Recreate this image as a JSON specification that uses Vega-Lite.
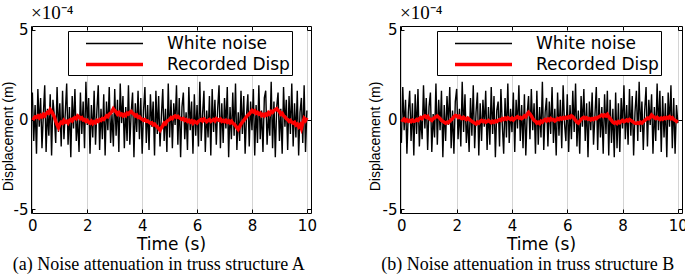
{
"$schema": "https://vega.github.io/schema/vega-lite/v6.json",
"padding": {"left": 0, "top": 3, "right": 0, "bottom": 0},
"autosize": {"type": "pad"},
"background": "white",
"spacing": 50,
"resolve": {"scale": {"color": "independent", "strokeWidth": "independent"}, "legend": {"color": "independent", "strokeWidth": "independent"}},
"config": {
  "view": {"stroke": "black", "strokeWidth": 1},
  "axis": {"labelFont": "DejaVu Sans", "labelFontSize": 15, "labelColor": "black", "titleFont": "DejaVu Sans", "titleFontSize": 17, "titleFontWeight": "normal", "titleColor": "black", "domain": false, "tickColor": "black", "tickSize": -4, "ticks": true},
  "title": {"fontWeight": "normal", "color": "black"},
  "legend": {"orient": "none", "legendX": 37, "legendY": 5, "symbolType": "M-1,0L5,0", "symbolSize": 361, "labelFont": "DejaVu Sans", "labelFontSize": 17, "labelColor": "black", "padding": 2, "strokeColor": "black", "fillColor": "white", "symbolOffset": 14, "labelOffset": 60, "rowPadding": 1, "cornerRadius": 0, "labelLimit": 400}
},
"datasets": {
"A": [
{"t":0,"w":1.5,"r":0.1},{"t":0.05,"w":-1.2,"r":0.05},{"t":0.1,"w":0.8,"r":0.15},{"t":0.15,"w":-1.9,"r":0.12},{"t":0.2,"w":1.7,"r":0.2},{"t":0.25,"w":-0.4,"r":0.1},{"t":0.3,"w":1.2,"r":0.22},{"t":0.35,"w":-1.6,"r":0.15},{"t":0.4,"w":0.3,"r":0.28},{"t":0.45,"w":1.9,"r":0.2},
{"t":0.5,"w":-1.8,"r":0.32},{"t":0.55,"w":0.6,"r":0.4},{"t":0.6,"w":-0.9,"r":0.35},{"t":0.65,"w":1.4,"r":0.55},{"t":0.7,"w":-2.0,"r":0.45},{"t":0.75,"w":1.1,"r":0.3},{"t":0.8,"w":0.2,"r":0.15},{"t":0.85,"w":-1.3,"r":-0.1},{"t":0.9,"w":1.8,"r":-0.3},{"t":0.95,"w":-0.7,"r":-0.45},
{"t":1,"w":0.9,"r":-0.25},{"t":1.05,"w":-1.5,"r":-0.15},{"t":1.1,"w":1.6,"r":-0.2},{"t":1.15,"w":-1.1,"r":-0.05},{"t":1.2,"w":0.4,"r":-0.15},{"t":1.25,"w":2.0,"r":-0.1},{"t":1.3,"w":-1.4,"r":-0.2},{"t":1.35,"w":0.7,"r":-0.05},{"t":1.4,"w":-2.1,"r":0},{"t":1.45,"w":1.3,"r":-0.08},
{"t":1.5,"w":-0.5,"r":0.05},{"t":1.55,"w":1.7,"r":0.1},{"t":1.6,"w":-1.2,"r":0.05},{"t":1.65,"w":0.1,"r":0.2},{"t":1.7,"w":-1.8,"r":0.15},{"t":1.75,"w":1.5,"r":0.05},{"t":1.8,"w":-0.8,"r":0.1},{"t":1.85,"w":1.0,"r":-0.02},{"t":1.9,"w":-1.6,"r":0},{"t":1.95,"w":2.1,"r":-0.1},
{"t":2,"w":-0.3,"r":-0.05},{"t":2.05,"w":1.2,"r":-0.15},{"t":2.1,"w":-1.9,"r":-0.2},{"t":2.15,"w":0.8,"r":-0.1},{"t":2.2,"w":-1.0,"r":-0.22},{"t":2.25,"w":1.6,"r":-0.12},{"t":2.3,"w":-1.4,"r":-0.18},{"t":2.35,"w":0.5,"r":-0.05},{"t":2.4,"w":1.9,"r":-0.1},{"t":2.45,"w":-1.7,"r":0},
{"t":2.5,"w":0.6,"r":-0.05},{"t":2.55,"w":-1.1,"r":0.05},{"t":2.6,"w":1.4,"r":0},{"t":2.65,"w":-2.0,"r":0.1},{"t":2.7,"w":1.0,"r":0.2},{"t":2.75,"w":-0.6,"r":0.15},{"t":2.8,"w":1.8,"r":0.3},{"t":2.85,"w":-1.3,"r":0.35},{"t":2.9,"w":0.3,"r":0.45},{"t":2.95,"w":-1.5,"r":0.6},
{"t":3,"w":1.7,"r":0.5},{"t":3.05,"w":-0.9,"r":0.42},{"t":3.1,"w":1.1,"r":0.3},{"t":3.15,"w":-1.8,"r":0.38},{"t":3.2,"w":2.0,"r":0.25},{"t":3.25,"w":-0.2,"r":0.3},{"t":3.3,"w":1.3,"r":0.2},{"t":3.35,"w":-1.6,"r":0.28},{"t":3.4,"w":0.7,"r":0.22},{"t":3.45,"w":-1.2,"r":0.35},
{"t":3.5,"w":1.9,"r":0.3},{"t":3.55,"w":-1.4,"r":0.4},{"t":3.6,"w":0.4,"r":0.45},{"t":3.65,"w":1.5,"r":0.35},{"t":3.7,"w":-2.1,"r":0.3},{"t":3.75,"w":0.9,"r":0.2},{"t":3.8,"w":-0.7,"r":0.25},{"t":3.85,"w":1.6,"r":0.12},{"t":3.9,"w":-1.1,"r":0.15},{"t":3.95,"w":1.2,"r":0.05},
{"t":4,"w":-1.9,"r":0.02},{"t":4.05,"w":0.5,"r":-0.05},{"t":4.1,"w":1.8,"r":0},{"t":4.15,"w":-1.3,"r":-0.1},{"t":4.2,"w":0.8,"r":-0.08},{"t":4.25,"w":-1.7,"r":-0.15},{"t":4.3,"w":1.4,"r":-0.2},{"t":4.35,"w":-0.4,"r":-0.18},{"t":4.4,"w":1.0,"r":-0.3},{"t":4.45,"w":-2.0,"r":-0.25},
{"t":4.5,"w":1.6,"r":-0.35},{"t":4.55,"w":-0.8,"r":-0.4},{"t":4.6,"w":1.3,"r":-0.5},{"t":4.65,"w":-1.5,"r":-0.6},{"t":4.7,"w":0.2,"r":-0.45},{"t":4.75,"w":1.7,"r":-0.35},{"t":4.8,"w":-1.2,"r":-0.2},{"t":4.85,"w":0.6,"r":-0.25},{"t":4.9,"w":-1.8,"r":-0.1},{"t":4.95,"w":2.0,"r":-0.05},
{"t":5,"w":-1.0,"r":0},{"t":5.05,"w":1.1,"r":0.1},{"t":5.1,"w":-1.6,"r":0.05},{"t":5.15,"w":0.9,"r":0.15},{"t":5.2,"w":-0.3,"r":0.2},{"t":5.25,"w":1.9,"r":0.12},{"t":5.3,"w":-1.4,"r":0.18},{"t":5.35,"w":1.2,"r":0.1},{"t":5.4,"w":-2.1,"r":0.05},{"t":5.45,"w":0.7,"r":0},
{"t":5.5,"w":1.5,"r":0.05},{"t":5.55,"w":-1.1,"r":-0.05},{"t":5.6,"w":0.4,"r":0},{"t":5.65,"w":-1.7,"r":-0.1},{"t":5.7,"w":1.8,"r":-0.05},{"t":5.75,"w":-0.6,"r":-0.15},{"t":5.8,"w":1.0,"r":-0.08},{"t":5.85,"w":-1.9,"r":-0.2},{"t":5.9,"w":1.4,"r":-0.1},{"t":5.95,"w":-0.9,"r":-0.15},
{"t":6,"w":0.8,"r":-0.2},{"t":6.05,"w":-1.5,"r":-0.1},{"t":6.1,"w":2.1,"r":-0.05},{"t":6.15,"w":-1.2,"r":0},{"t":6.2,"w":0.3,"r":-0.08},{"t":6.25,"w":1.6,"r":0.02},{"t":6.3,"w":-1.8,"r":-0.05},{"t":6.35,"w":0.5,"r":-0.12},{"t":6.4,"w":-1.0,"r":-0.05},{"t":6.45,"w":1.3,"r":0},
{"t":6.5,"w":-2.0,"r":-0.1},{"t":6.55,"w":1.7,"r":-0.05},{"t":6.6,"w":-0.7,"r":0},{"t":6.65,"w":1.1,"r":-0.08},{"t":6.7,"w":-1.4,"r":0.05},{"t":6.75,"w":0.6,"r":0},{"t":6.8,"w":1.9,"r":-0.05},{"t":6.85,"w":-1.6,"r":0.02},{"t":6.9,"w":0.9,"r":-0.1},{"t":6.95,"w":-1.3,"r":-0.05},
{"t":7,"w":1.2,"r":-0.12},{"t":7.05,"w":-0.5,"r":-0.05},{"t":7.1,"w":1.8,"r":-0.15},{"t":7.15,"w":-2.1,"r":-0.08},{"t":7.2,"w":0.7,"r":-0.18},{"t":7.25,"w":-1.1,"r":-0.1},{"t":7.3,"w":1.5,"r":-0.2},{"t":7.35,"w":-0.9,"r":-0.25},{"t":7.4,"w":2.0,"r":-0.35},{"t":7.45,"w":-1.7,"r":-0.45},
{"t":7.5,"w":0.4,"r":-0.55},{"t":7.55,"w":-1.2,"r":-0.4},{"t":7.6,"w":1.6,"r":-0.25},{"t":7.65,"w":-0.8,"r":-0.15},{"t":7.7,"w":1.3,"r":-0.05},{"t":7.75,"w":-1.9,"r":0.05},{"t":7.8,"w":0.2,"r":0.15},{"t":7.85,"w":1.4,"r":0.25},{"t":7.9,"w":-1.5,"r":0.3},{"t":7.95,"w":1.0,"r":0.4},
{"t":8,"w":-0.6,"r":0.5},{"t":8.05,"w":1.7,"r":0.42},{"t":8.1,"w":-2.0,"r":0.48},{"t":8.15,"w":0.8,"r":0.35},{"t":8.2,"w":-1.3,"r":0.4},{"t":8.25,"w":1.9,"r":0.3},{"t":8.3,"w":-1.1,"r":0.35},{"t":8.35,"w":0.5,"r":0.22},{"t":8.4,"w":-1.8,"r":0.28},{"t":8.45,"w":1.2,"r":0.2},
{"t":8.5,"w":1.6,"r":0.3},{"t":8.55,"w":-1.4,"r":0.25},{"t":8.6,"w":0.3,"r":0.38},{"t":8.65,"w":-0.9,"r":0.3},{"t":8.7,"w":2.1,"r":0.45},{"t":8.75,"w":-1.6,"r":0.4},{"t":8.8,"w":1.0,"r":0.5},{"t":8.85,"w":-2.1,"r":0.55},{"t":8.9,"w":0.7,"r":0.6},{"t":8.95,"w":1.5,"r":0.5},
{"t":9,"w":-1.2,"r":0.45},{"t":9.05,"w":0.6,"r":0.3},{"t":9.1,"w":-1.9,"r":0.35},{"t":9.15,"w":1.8,"r":0.2},{"t":9.2,"w":-0.4,"r":0.15},{"t":9.25,"w":1.1,"r":0.05},{"t":9.3,"w":-1.7,"r":0},{"t":9.35,"w":1.3,"r":-0.1},{"t":9.4,"w":-0.8,"r":-0.05},{"t":9.45,"w":2.0,"r":-0.15},
{"t":9.5,"w":-1.5,"r":-0.2},{"t":9.55,"w":0.9,"r":-0.15},{"t":9.6,"w":-1.0,"r":-0.3},{"t":9.65,"w":1.6,"r":-0.25},{"t":9.7,"w":-2.0,"r":-0.4},{"t":9.75,"w":0.4,"r":-0.3},{"t":9.8,"w":1.2,"r":-0.5},{"t":9.85,"w":-1.3,"r":-0.2},{"t":9.9,"w":1.9,"r":0.05},{"t":9.95,"w":-1.8,"r":-0.05},
{"t":10,"w":0.5,"r":0.1}
],
"B": [
{"t":0,"w":-1.3,"r":0},{"t":0.05,"w":1.8,"r":-0.05},{"t":0.1,"w":-0.6,"r":0.02},{"t":0.15,"w":1.1,"r":-0.08},{"t":0.2,"w":-1.9,"r":-0.02},{"t":0.25,"w":0.4,"r":-0.1},{"t":0.3,"w":1.6,"r":-0.05},{"t":0.35,"w":-1.2,"r":-0.12},{"t":0.4,"w":0.9,"r":-0.04},{"t":0.45,"w":-2.0,"r":-0.1},
{"t":0.5,"w":1.4,"r":-0.08},{"t":0.55,"w":-0.8,"r":0},{"t":0.6,"w":1.7,"r":-0.05},{"t":0.65,"w":-1.5,"r":0.05},{"t":0.7,"w":0.2,"r":0.1},{"t":0.75,"w":-1.1,"r":0.05},{"t":0.8,"w":1.9,"r":0.15},{"t":0.85,"w":-0.5,"r":0.2},{"t":0.9,"w":1.2,"r":0.12},{"t":0.95,"w":-1.7,"r":0.18},
{"t":1,"w":0.7,"r":0.05},{"t":1.05,"w":1.5,"r":0},{"t":1.1,"w":-1.8,"r":-0.05},{"t":1.15,"w":0.3,"r":0.05},{"t":1.2,"w":-1.0,"r":0.1},{"t":1.25,"w":2.0,"r":0.15},{"t":1.3,"w":-1.4,"r":0.2},{"t":1.35,"w":1.1,"r":0.12},{"t":1.4,"w":-0.6,"r":0.05},{"t":1.45,"w":1.6,"r":-0.05},
{"t":1.5,"w":-2.1,"r":-0.1},{"t":1.55,"w":0.8,"r":-0.15},{"t":1.6,"w":-1.2,"r":-0.2},{"t":1.65,"w":1.3,"r":-0.15},{"t":1.7,"w":-0.3,"r":-0.18},{"t":1.75,"w":1.8,"r":-0.1},{"t":1.8,"w":-1.6,"r":-0.02},{"t":1.85,"w":0.5,"r":0.05},{"t":1.9,"w":-1.9,"r":0.15},{"t":1.95,"w":1.0,"r":0.22},
{"t":2,"w":1.7,"r":0.2},{"t":2.05,"w":-1.1,"r":0.12},{"t":2.1,"w":0.6,"r":0.18},{"t":2.15,"w":-1.5,"r":0.08},{"t":2.2,"w":2.1,"r":0.05},{"t":2.25,"w":-0.7,"r":0.12},{"t":2.3,"w":1.4,"r":0.05},{"t":2.35,"w":-1.3,"r":0},{"t":2.4,"w":0.1,"r":0.08},{"t":2.45,"w":-1.8,"r":0.02},
{"t":2.5,"w":1.2,"r":-0.05},{"t":2.55,"w":-0.9,"r":-0.1},{"t":2.6,"w":1.9,"r":-0.15},{"t":2.65,"w":-1.6,"r":-0.2},{"t":2.7,"w":0.4,"r":-0.25},{"t":2.75,"w":1.5,"r":-0.15},{"t":2.8,"w":-2.0,"r":-0.2},{"t":2.85,"w":0.9,"r":-0.1},{"t":2.9,"w":-1.2,"r":-0.05},{"t":2.95,"w":1.1,"r":-0.12},
{"t":3,"w":-0.4,"r":-0.08},{"t":3.05,"w":1.6,"r":-0.15},{"t":3.1,"w":-1.7,"r":-0.1},{"t":3.15,"w":0.7,"r":-0.05},{"t":3.2,"w":-1.4,"r":-0.12},{"t":3.25,"w":1.8,"r":-0.18},{"t":3.3,"w":-0.8,"r":-0.1},{"t":3.35,"w":1.3,"r":-0.15},{"t":3.4,"w":-2.1,"r":-0.08},{"t":3.45,"w":0.5,"r":-0.12},
{"t":3.5,"w":1.0,"r":-0.05},{"t":3.55,"w":-1.5,"r":0},{"t":3.6,"w":1.7,"r":-0.05},{"t":3.65,"w":-0.3,"r":0.05},{"t":3.7,"w":-1.9,"r":0},{"t":3.75,"w":1.2,"r":0.08},{"t":3.8,"w":-1.0,"r":0.02},{"t":3.85,"w":2.0,"r":0.1},{"t":3.9,"w":-1.3,"r":0.05},{"t":3.95,"w":0.6,"r":0},
{"t":4,"w":-0.7,"r":0.08},{"t":4.05,"w":1.5,"r":-0.02},{"t":4.1,"w":-1.8,"r":0.05},{"t":4.15,"w":1.1,"r":0.1},{"t":4.2,"w":-0.5,"r":0.15},{"t":4.25,"w":1.9,"r":0.08},{"t":4.3,"w":-1.2,"r":0.12},{"t":4.35,"w":0.8,"r":0.05},{"t":4.4,"w":-1.6,"r":0.1},{"t":4.45,"w":1.4,"r":0.2},
{"t":4.5,"w":-2.0,"r":0.15},{"t":4.55,"w":0.3,"r":0.3},{"t":4.6,"w":1.3,"r":0.4},{"t":4.65,"w":-1.1,"r":0.3},{"t":4.7,"w":1.7,"r":0.2},{"t":4.75,"w":-0.6,"r":0.05},{"t":4.8,"w":0.9,"r":-0.05},{"t":4.85,"w":-1.9,"r":-0.1},{"t":4.9,"w":1.6,"r":-0.2},{"t":4.95,"w":-1.4,"r":-0.15},
{"t":5,"w":0.7,"r":-0.22},{"t":5.05,"w":-1.0,"r":-0.1},{"t":5.1,"w":2.1,"r":-0.15},{"t":5.15,"w":-1.7,"r":-0.05},{"t":5.2,"w":0.4,"r":0},{"t":5.25,"w":1.2,"r":-0.08},{"t":5.3,"w":-1.5,"r":0.02},{"t":5.35,"w":1.0,"r":-0.05},{"t":5.4,"w":-0.8,"r":0.05},{"t":5.45,"w":1.8,"r":-0.02},
{"t":5.5,"w":-1.3,"r":0},{"t":5.55,"w":0.6,"r":-0.08},{"t":5.6,"w":-2.0,"r":-0.03},{"t":5.65,"w":1.5,"r":0.05},{"t":5.7,"w":-0.9,"r":0},{"t":5.75,"w":1.1,"r":0.08},{"t":5.8,"w":-1.6,"r":0.03},{"t":5.85,"w":1.9,"r":0.1},{"t":5.9,"w":-0.2,"r":0.05},{"t":5.95,"w":-1.2,"r":0.12},
{"t":6,"w":1.4,"r":0.08},{"t":6.05,"w":-1.8,"r":0.15},{"t":6.1,"w":0.8,"r":0.1},{"t":6.15,"w":-1.1,"r":0.2},{"t":6.2,"w":1.6,"r":0.15},{"t":6.25,"w":-0.7,"r":0.05},{"t":6.3,"w":2.0,"r":-0.05},{"t":6.35,"w":-1.5,"r":-0.15},{"t":6.4,"w":0.5,"r":-0.2},{"t":6.45,"w":-1.9,"r":-0.1},
{"t":6.5,"w":1.3,"r":0},{"t":6.55,"w":-0.4,"r":0.08},{"t":6.6,"w":1.7,"r":0.12},{"t":6.65,"w":-1.2,"r":0.05},{"t":6.7,"w":0.9,"r":0.1},{"t":6.75,"w":-2.1,"r":0.02},{"t":6.8,"w":1.0,"r":0.05},{"t":6.85,"w":-0.6,"r":-0.02},{"t":6.9,"w":1.5,"r":0.05},{"t":6.95,"w":-1.4,"r":0},
{"t":7,"w":0.2,"r":0.08},{"t":7.05,"w":1.8,"r":0.05},{"t":7.1,"w":-1.7,"r":0.12},{"t":7.15,"w":1.2,"r":0.15},{"t":7.2,"w":-1.0,"r":0.2},{"t":7.25,"w":0.7,"r":0.25},{"t":7.3,"w":-1.9,"r":0.18},{"t":7.35,"w":1.4,"r":0.25},{"t":7.4,"w":-0.8,"r":0.2},{"t":7.45,"w":1.6,"r":0.28},
{"t":7.5,"w":-2.0,"r":0.15},{"t":7.55,"w":1.1,"r":0.05},{"t":7.6,"w":-1.3,"r":-0.05},{"t":7.65,"w":0.6,"r":-0.15},{"t":7.7,"w":-2.1,"r":-0.2},{"t":7.75,"w":1.5,"r":-0.15},{"t":7.8,"w":-1.6,"r":-0.22},{"t":7.85,"w":0.9,"r":-0.12},{"t":7.9,"w":-1.8,"r":-0.18},{"t":7.95,"w":1.2,"r":-0.1},
{"t":8,"w":-0.5,"r":-0.05},{"t":8.05,"w":1.9,"r":-0.12},{"t":8.1,"w":-1.1,"r":-0.08},{"t":8.15,"w":0.8,"r":-0.02},{"t":8.2,"w":-1.4,"r":-0.08},{"t":8.25,"w":1.7,"r":0},{"t":8.3,"w":-0.9,"r":-0.05},{"t":8.35,"w":1.3,"r":-0.1},{"t":8.4,"w":-2.0,"r":-0.15},{"t":8.45,"w":0.4,"r":-0.2},
{"t":8.5,"w":1.6,"r":-0.22},{"t":8.55,"w":-1.2,"r":-0.18},{"t":8.6,"w":2.1,"r":-0.22},{"t":8.65,"w":-0.7,"r":-0.15},{"t":8.7,"w":1.0,"r":-0.2},{"t":8.75,"w":-1.7,"r":-0.12},{"t":8.8,"w":0.5,"r":-0.05},{"t":8.85,"w":1.8,"r":0},{"t":8.9,"w":-1.5,"r":0.08},{"t":8.95,"w":1.1,"r":0.05},
{"t":9,"w":-0.3,"r":0.12},{"t":9.05,"w":1.4,"r":0.25},{"t":9.1,"w":-1.9,"r":0.18},{"t":9.15,"w":0.7,"r":0.1},{"t":9.2,"w":-1.2,"r":0.05},{"t":9.25,"w":2.0,"r":0.12},{"t":9.3,"w":-0.6,"r":0.05},{"t":9.35,"w":1.6,"r":0},{"t":9.4,"w":-1.8,"r":0.08},{"t":9.45,"w":1.3,"r":0.02},
{"t":9.5,"w":-1.0,"r":0.1},{"t":9.55,"w":0.9,"r":0.05},{"t":9.6,"w":-2.1,"r":0.12},{"t":9.65,"w":1.5,"r":0.08},{"t":9.7,"w":-0.4,"r":0.15},{"t":9.75,"w":1.9,"r":0.05},{"t":9.8,"w":-1.6,"r":0.1},{"t":9.85,"w":1.2,"r":0},{"t":9.9,"w":-1.9,"r":-0.05},{"t":9.95,"w":0.8,"r":-0.1},
{"t":10,"w":-0.2,"r":-0.15}
]
},
"hconcat": [
{
 "title": {"text": "(a) Noise attenuation in truss structure A", "orient": "bottom", "anchor": "middle", "font": "Liberation Serif", "fontSize": 18, "offset": 3},
 "vconcat": [
 {
  "width": 280, "height": 187,
  "data": {"name": "A"},
  "title": {"text": "×10⁻⁴", "anchor": "start", "frame": "group", "font": "Liberation Serif", "fontSize": 19, "offset": 0},
  "transform": [{"fold": ["w", "r"], "as": ["series", "val"]}],
  "encoding": {
   "color": {"field": "series", "type": "nominal", "scale": {"domain": ["w", "r"], "range": ["#000000", "#ff0000"]}, "legend": {"title": null, "labelExpr": "datum.value == 'w' ? 'White noise' : 'Recorded Disp'"}},
   "strokeWidth": {"field": "series", "type": "ordinal", "scale": {"domain": ["w", "r"], "range": [1.4, 3.5]}, "legend": {"title": null}}
  },
  "layer": [
   {"transform": [{"filter": "datum.series == 'w'"}], "mark": {"type": "line", "clip": true},
    "encoding": {
     "x": {"field": "t", "type": "quantitative", "scale": {"domain": [-0.05, 10.15], "nice": false, "zero": false}, "axis": {"values": [0, 2, 4, 6, 8, 10], "title": "Time (s)", "grid": true, "gridColor": "#d4d4d4", "labelPadding": 9, "titlePadding": 3}},
     "y": {"field": "val", "type": "quantitative", "scale": {"domain": [-5.2, 5.2], "nice": false, "zero": false}, "axis": {"values": [-5, 0, 5], "title": "Displacement (m)", "grid": false, "labelExpr": "datum.value < 0 ? '-5' : datum.label", "labelPadding": 7, "titleFont": "Liberation Sans", "titleFontSize": 14, "titleX": -16, "titleY": 110}}
    }},
   {"transform": [{"filter": "datum.series == 'r'"}], "mark": {"type": "line", "clip": true},
    "encoding": {
     "x": {"field": "t", "type": "quantitative", "scale": {"domain": [-0.05, 10.15], "nice": false, "zero": false}, "axis": {"orient": "top", "values": [0, 2, 4, 6, 8, 10], "labels": false, "title": null, "grid": false}},
     "y": {"field": "val", "type": "quantitative", "scale": {"domain": [-5.2, 5.2], "nice": false, "zero": false}, "axis": {"orient": "right", "values": [-5, 0, 5], "labels": false, "title": null, "grid": false}}
    }}
  ],
  "resolve": {"axis": {"x": "independent", "y": "independent"}}
 }
 ]
},
{
 "title": {"text": "(b) Noise attenuation in truss structure B", "orient": "bottom", "anchor": "middle", "font": "Liberation Serif", "fontSize": 18, "offset": 3},
 "vconcat": [
 {
  "width": 282, "height": 187,
  "data": {"name": "B"},
  "title": {"text": "×10⁻⁴", "anchor": "start", "frame": "group", "font": "Liberation Serif", "fontSize": 19, "offset": 0},
  "transform": [{"fold": ["w", "r"], "as": ["series", "val"]}],
  "encoding": {
   "color": {"field": "series", "type": "nominal", "scale": {"domain": ["w", "r"], "range": ["#000000", "#ff0000"]}, "legend": {"title": null, "labelExpr": "datum.value == 'w' ? 'White noise' : 'Recorded Disp'"}},
   "strokeWidth": {"field": "series", "type": "ordinal", "scale": {"domain": ["w", "r"], "range": [1.4, 3.5]}, "legend": {"title": null}}
  },
  "layer": [
   {"transform": [{"filter": "datum.series == 'w'"}], "mark": {"type": "line", "clip": true},
    "encoding": {
     "x": {"field": "t", "type": "quantitative", "scale": {"domain": [-0.05, 10.15], "nice": false, "zero": false}, "axis": {"values": [0, 2, 4, 6, 8, 10], "title": "Time (s)", "grid": true, "gridColor": "#d4d4d4", "labelPadding": 9, "titlePadding": 3}},
     "y": {"field": "val", "type": "quantitative", "scale": {"domain": [-5.2, 5.2], "nice": false, "zero": false}, "axis": {"values": [-5, 0, 5], "title": "Displacement (m)", "grid": false, "labelExpr": "datum.value < 0 ? '-5' : datum.label", "labelPadding": 7, "titleFont": "Liberation Sans", "titleFontSize": 14, "titleX": -18, "titleY": 110}}
    }},
   {"transform": [{"filter": "datum.series == 'r'"}], "mark": {"type": "line", "clip": true},
    "encoding": {
     "x": {"field": "t", "type": "quantitative", "scale": {"domain": [-0.05, 10.15], "nice": false, "zero": false}, "axis": {"orient": "top", "values": [0, 2, 4, 6, 8, 10], "labels": false, "title": null, "grid": false}},
     "y": {"field": "val", "type": "quantitative", "scale": {"domain": [-5.2, 5.2], "nice": false, "zero": false}, "axis": {"orient": "right", "values": [-5, 0, 5], "labels": false, "title": null, "grid": false}}
    }}
  ],
  "resolve": {"axis": {"x": "independent", "y": "independent"}}
 }
 ]
}
]
}
